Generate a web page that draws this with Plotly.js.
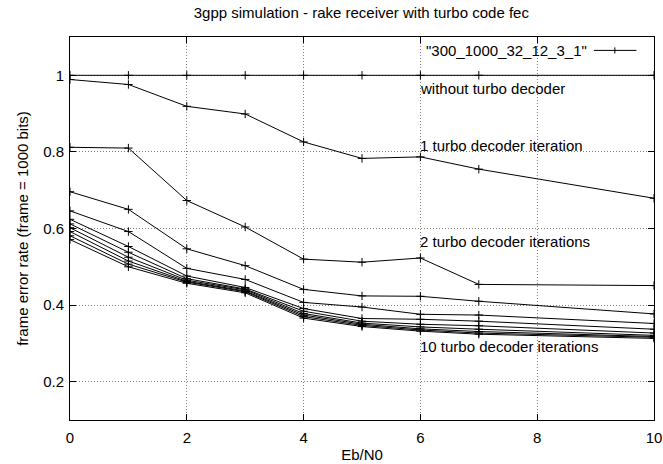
<!DOCTYPE html>
<html>
<head>
<meta charset="utf-8">
<script src="https://cdn.plot.ly/plotly-3.0.1.min.js"></script>
<style>html,body{margin:0;padding:0;background:#fff;}#chart{width:663px;height:464px;}</style>
</head>
<body>
<div id="chart"></div>
<script>
// Eb/N0 sample points
const ebn0 = [0, 1, 2, 3, 4, 5, 6, 7, 10];
// frame error rate per decoder setting
const ferWithout = [1, 1, 1, 1, 1, 1, 1, 1, 1];
const ferIter1  = [0.989, 0.976, 0.919, 0.899, 0.826, 0.783, 0.787, 0.755, 0.679];
const ferIter2  = [0.812, 0.810, 0.673, 0.604, 0.520, 0.512, 0.523, 0.454, 0.451];
const ferIter3  = [0.696, 0.650, 0.547, 0.503, 0.441, 0.424, 0.423, 0.410, 0.377];
const ferIter4  = [0.646, 0.592, 0.496, 0.467, 0.407, 0.395, 0.376, 0.374, 0.352];
const ferIter5  = [0.624, 0.553, 0.476, 0.446, 0.391, 0.365, 0.363, 0.358, 0.337];
const ferIter6  = [0.612, 0.538, 0.469, 0.442, 0.384, 0.358, 0.350, 0.346, 0.327];
const ferIter7  = [0.602, 0.525, 0.465, 0.440, 0.378, 0.353, 0.343, 0.337, 0.321];
const ferIter8  = [0.592, 0.515, 0.462, 0.437, 0.374, 0.350, 0.338, 0.331, 0.318];
const ferIter9  = [0.581, 0.507, 0.460, 0.435, 0.370, 0.347, 0.335, 0.327, 0.316];
const ferIter10 = [0.571, 0.500, 0.457, 0.432, 0.366, 0.344, 0.332, 0.324, 0.313];
const seriesName = '"300_1000_32_12_3_1"';
const curveLabels = ['without turbo decoder', '1 turbo decoder iteration', '2 turbo decoder iterations', '10 turbo decoder iterations'];
const curveLabelY = [0.965, 0.818, 0.566, 0.291];
const curveLabelX = 6;

const allSeries = [ferWithout, ferIter1, ferIter2, ferIter3, ferIter4, ferIter5, ferIter6, ferIter7, ferIter8, ferIter9, ferIter10];
const xs = [], ys = [];
allSeries.forEach((s, k) => {
  if (k > 0) { xs.push(null); ys.push(null); }
  s.forEach((v, i) => { xs.push(ebn0[i]); ys.push(v); });
});

const font = {family: '"Liberation Sans", Arial, sans-serif', size: 15, color: '#000'};

const trace = {
  x: xs, y: ys, type: 'scatter', mode: 'lines+markers', name: seriesName,
  connectgaps: false, showlegend: false,
  line: {color: '#000', width: 1},
  marker: {symbol: 'cross-thin', size: 6, color: '#000', line: {color: '#000', width: 1}}
};

const annotations = curveLabels.map((t, i) => ({
  x: curveLabelX, y: curveLabelY[i], xref: 'x', yref: 'y', text: t,
  showarrow: false, xanchor: 'left', yanchor: 'middle', font: font, xshift: -2
}));
annotations.push({
  x: 0.888, y: 0.965, xref: 'paper', yref: 'paper', text: seriesName,
  showarrow: false, xanchor: 'right', yanchor: 'middle', font: font
});

const shapes = [
  {type: 'line', xref: 'paper', yref: 'paper', x0: 0.897, x1: 0.970, y0: 0.965, y1: 0.965, line: {color: '#000', width: 1}},
  {type: 'line', xref: 'paper', yref: 'paper', x0: 0.933, x1: 0.933, y0: 0.957, y1: 0.973, line: {color: '#000', width: 1}}
];

const axisCommon = {
  showline: true, linecolor: '#000', linewidth: 1, mirror: 'ticks',
  ticks: 'inside', ticklen: 6, tickcolor: '#000', tickwidth: 1,
  showgrid: true, gridcolor: '#808080', griddash: '1px,2px', gridwidth: 1,
  zeroline: false, tickfont: font
};

const layout = {
  width: 663, height: 464,
  margin: {l: 70, r: 9, t: 37, b: 44},
  paper_bgcolor: '#fff', plot_bgcolor: '#fff',
  title: {text: '3gpp simulation - rake receiver with turbo code fec', font: font, x: 0.545, xanchor: 'center', y: 0.972, yanchor: 'middle'},
  xaxis: Object.assign({}, axisCommon, {range: [0, 10], dtick: 2, tick0: 0, ticklabelstandoff: 4,
    title: {text: 'Eb/N0', font: font, standoff: 4}}),
  yaxis: Object.assign({}, axisCommon, {range: [0.1, 1.1], dtick: 0.2, tick0: 0, ticklabelstandoff: 2,
    title: {text: 'frame error rate (frame = 1000 bits)', font: font, standoff: 10}}),
  annotations: annotations,
  shapes: shapes,
  showlegend: false
};

Plotly.newPlot('chart', [trace], layout, {displayModeBar: false, staticPlot: true});
</script>
</body>
</html>
